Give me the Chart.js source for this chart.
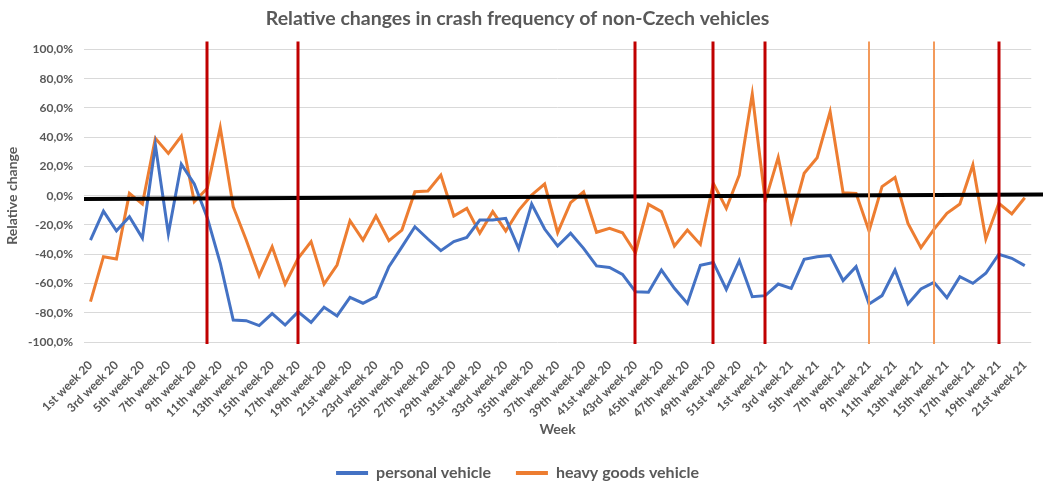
<!DOCTYPE html>
<html>
<head>
<meta charset="utf-8">
<script src="https://cdn.jsdelivr.net/npm/chart.js@4/dist/chart.umd.min.js"></script>
<style>
    html, body { margin: 0; padding: 0; background: #fff; }
    #wrap { width: 1043px; height: 482px; }
</style>
</head>
<body>
<div id="wrap"><canvas id="crashChart" width="1043" height="482"></canvas></div>
<script>
const weekLabels = [
    '1st week 20', '2nd week 20', '3rd week 20', '4th week 20', '5th week 20', '6th week 20', '7th week 20', '8th week 20',
    '9th week 20', '10th week 20', '11th week 20', '12th week 20', '13th week 20', '14th week 20', '15th week 20', '16th week 20',
    '17th week 20', '18th week 20', '19th week 20', '20th week 20', '21st week 20', '22nd week 20', '23rd week 20', '24th week 20',
    '25th week 20', '26th week 20', '27th week 20', '28th week 20', '29th week 20', '30th week 20', '31st week 20', '32nd week 20',
    '33rd week 20', '34th week 20', '35th week 20', '36th week 20', '37th week 20', '38th week 20', '39th week 20', '40th week 20',
    '41st week 20', '42nd week 20', '43rd week 20', '44th week 20', '45th week 20', '46th week 20', '47th week 20', '48th week 20',
    '49th week 20', '50th week 20', '51st week 20', '52nd week 20',
    '1st week 21', '2nd week 21', '3rd week 21', '4th week 21', '5th week 21', '6th week 21', '7th week 21', '8th week 21',
    '9th week 21', '10th week 21', '11th week 21', '12th week 21', '13th week 21', '14th week 21', '15th week 21', '16th week 21',
    '17th week 21', '18th week 21', '19th week 21', '20th week 21', '21st week 21'
];

const personalVehicle = [
    -30.3, -10.5, -24, -14.4, -29, 34.6, -26, 21.6, 8, -15,
    -46, -85, -85.4, -88.8, -80.6, -88.4, -79.4, -86.6, -76.3, -82.2,
    -69.5, -73.5, -69, -48.5, -35, -21.2, -29.6, -37.6, -31.4, -28.5,
    -16.6, -16.6, -15.5, -36.2, -5.7, -22.8, -34.4, -25.7, -36, -48,
    -49, -53.8, -65.6, -66, -50.8, -63.3, -73.6, -47.6, -45.6, -64,
    -44.4, -69, -68.3, -60.4, -63.3, -43.5, -41.7, -40.8, -58, -48.5,
    -74, -68.3, -50.8, -74, -63.8, -59.2, -69.7, -55.4, -59.9, -53,
    -40, -42.8, -47.8
];

const heavyGoodsVehicle = [
    -72.4, -41.7, -43.3, 1.6, -5.7, 39.2, 28.9, 40.8, -4.1, 5,
    46.5, -7.5, -30.3, -54.7, -34.9, -60.4, -42.8, -31.4, -60.4, -47.4,
    -17.1, -30.3, -13.9, -30.8, -23.5, 2.7, 3.2, 14.1, -13.9, -8.7,
    -25.7, -10.9, -24.1, -10, 0.5, 8, -25.3, -4.8, 2.7, -25,
    -22.3, -25.3, -39, -5.9, -10.9, -34.4, -23.5, -33.3, 8.4, -8.7,
    14.1, 69.5, -3.5, 26.2, -17.3, 15.3, 26, 57.4, 2, 1.6,
    -24.1, 6.2, 12.5, -18.9, -35.5, -23, -12, -5.7, 21, -29.6,
    -5.2, -12.5, -1.4
];

// vertical marker weeks
const redMarkers = ['10th week 20', '17th week 20', '43rd week 20', '49th week 20', '1st week 21', '19th week 21'];
const orangeMarkers = ['9th week 21', '14th week 21'];

// black reference line: value at the left edge, value at the right edge
const baseLine = [-2.3, 0.9];

const greyText = '#595959';
const fontFamily = 'Lato, "Open Sans", sans-serif';

const markerPlugin = {
    id: 'markers',
    beforeLayout(chart) {
        // keep the legend short even with wide item spacing
        const legend = chart.legend;
        if (legend && !legend._shortFit) {
            const fit = legend.fit;
            legend.fit = function () {
                fit.call(this);
                this.height = 42;
            };
            legend._shortFit = true;
        }
    },
    afterDatasetsDraw(chart) {
        const { ctx, chartArea, scales } = chart;
        const x = scales.x, y = scales.y;
        ctx.save();

        // black near-zero line
        ctx.strokeStyle = '#000';
        ctx.lineWidth = 4;
        ctx.beginPath();
        ctx.moveTo(chartArea.left, y.getPixelForValue(baseLine[0]));
        ctx.lineTo(chart.width, y.getPixelForValue(baseLine[1]));
        ctx.stroke();

        const drawMarker = (label, color, width) => {
            const px = Math.round(x.getPixelForValue(weekLabels.indexOf(label)));
            ctx.strokeStyle = color;
            ctx.lineWidth = width;
            ctx.beginPath();
            ctx.moveTo(px, chartArea.top - 8);
            ctx.lineTo(px, chartArea.bottom + 2);
            ctx.stroke();
        };
        orangeMarkers.forEach(l => drawMarker(l, '#F39A5B', 2));
        redMarkers.forEach(l => drawMarker(l, '#C00000', 3));
        ctx.restore();
    }
};

const ctx = document.getElementById('crashChart').getContext('2d');
const crashChart = new Chart(ctx, {
    type: 'line',
    data: {
        labels: weekLabels,
        datasets: [{
            label: 'personal vehicle',
            data: personalVehicle,
            borderColor: '#4472C4',
            backgroundColor: '#4472C4',
            borderWidth: 3,
            pointRadius: 0,
            tension: 0,
            fill: false
        }, {
            label: 'heavy goods vehicle',
            data: heavyGoodsVehicle,
            borderColor: '#ED7D31',
            backgroundColor: '#ED7D31',
            borderWidth: 3,
            pointRadius: 0,
            tension: 0,
            fill: false
        }]
    },
    options: {
        responsive: false,
        animation: false,
        layout: { padding: { left: 0, right: 8, top: 0, bottom: 0 } },
        plugins: {
            title: {
                display: true,
                text: 'Relative changes in crash frequency of non-Czech vehicles',
                color: greyText,
                font: { family: fontFamily, size: 19.5, weight: 'bold' },
                padding: { top: 7, bottom: 19 }
            },
            legend: {
                position: 'bottom',
                labels: {
                    color: greyText,
                    font: { family: fontFamily, size: 16, weight: 'bold' },
                    boxWidth: 32,
                    boxHeight: 4,
                    padding: 25,
                    generateLabels(chart) {
                        return Chart.defaults.plugins.legend.labels.generateLabels(chart)
                            .map(item => ({ ...item, lineWidth: 0 }));
                    }
                }
            },
            tooltip: { enabled: false }
        },
        scales: {
            x: {
                offset: true,
                grid: { display: false },
                border: { display: false },
                ticks: {
                    autoSkip: false,
                    minRotation: 45,
                    maxRotation: 45,
                    padding: 8,
                    color: greyText,
                    font: { family: fontFamily, size: 12, weight: 'bold' },
                    callback: (val, i) => (i % 2 === 0 ? weekLabels[i] : '')
                },
                title: {
                    display: true,
                    text: 'Week',
                    color: greyText,
                    font: { family: fontFamily, size: 14, weight: 'bold' },
                    padding: { top: 4, bottom: 2 }
                },
                afterFit: scale => { scale.height = 98; }
            },
            y: {
                min: -100,
                max: 100,
                grid: { color: '#D9D9D9', lineWidth: 1, drawTicks: false },
                border: { display: false },
                ticks: {
                    stepSize: 20,
                    padding: 11,
                    color: greyText,
                    font: { family: fontFamily, size: 12, weight: 'bold' },
                    callback: v => v.toFixed(1).replace('.', ',') + '%'
                },
                title: {
                    display: true,
                    text: 'Relative change',
                    color: greyText,
                    font: { family: fontFamily, size: 14, weight: 'bold' },
                    padding: { top: 4, bottom: 4 }
                },
                afterFit: scale => { scale.width = 84; }
            }
        }
    },
    plugins: [markerPlugin]
});
</script>
</body>
</html>
